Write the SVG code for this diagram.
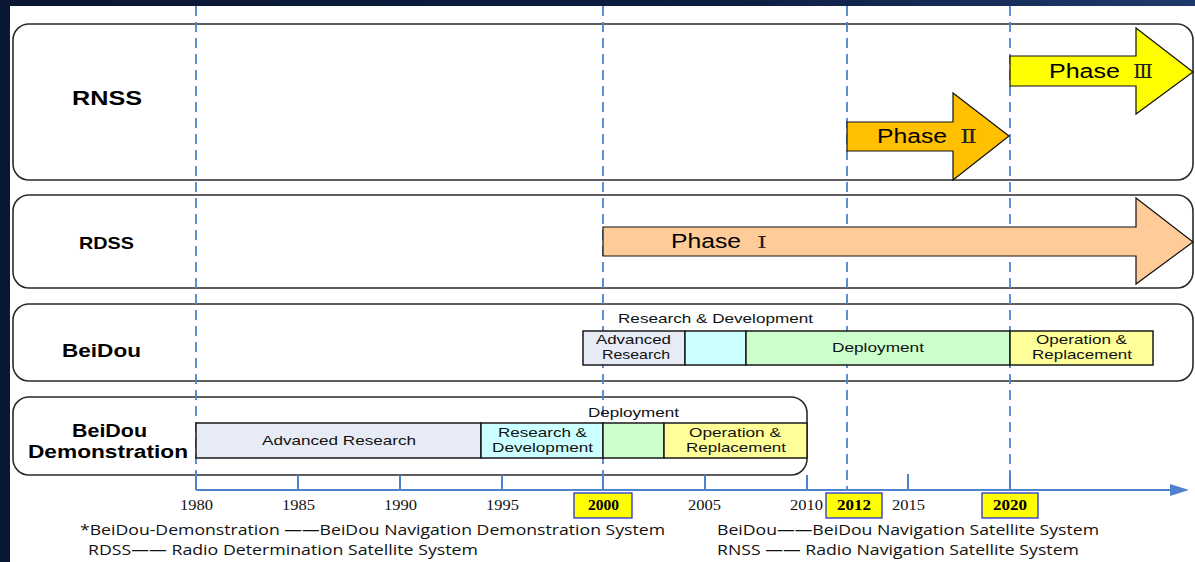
<svg xmlns="http://www.w3.org/2000/svg" width="1195" height="562" viewBox="0 0 1195 562">
<defs>
<linearGradient id="bg" x1="0" y1="0" x2="1" y2="0">
<stop offset="0" stop-color="#0a1733"/>
<stop offset="0.6" stop-color="#0d1d40"/>
<stop offset="1" stop-color="#1e3a6c"/>
</linearGradient>
<style>
.row{fill:#fff;stroke:#2a2a2a;stroke-width:1.6}
.bar{stroke:#1a1a1a;stroke-width:1.5}
.arr{stroke:#111;stroke-width:1.2}
.guide{stroke:#4f82cc;stroke-width:1.8;stroke-dasharray:10 6;fill:none}
.tick{stroke:#4f82cc;stroke-width:2}
.lbl{font-family:"Liberation Sans",Arial,sans-serif;font-weight:bold;fill:#000}
.ph{font-family:"Liberation Sans",Arial,sans-serif;font-size:20px;fill:#000}
.rn{font-family:"DejaVu Serif","Liberation Serif","Noto Sans CJK SC",serif;fill:#222}
.bt{font-family:"Liberation Sans",Arial,sans-serif;font-size:13.5px;fill:#111}
.yr{font-family:"Liberation Serif","Times New Roman",serif;font-size:14px;fill:#111}
.yb{font-family:"Liberation Serif","Times New Roman",serif;font-size:14px;font-weight:bold;fill:#000}
.yb-box{fill:#ffff00;stroke:#2233dd;stroke-width:1.3}
.lg{font-family:"Open Sans","Liberation Sans",sans-serif;font-size:15px;fill:#111}
</style>
</defs>
<rect x="0" y="0" width="1195" height="562" fill="url(#bg)"/>
<rect x="10" y="6" width="1185" height="556" fill="#fff"/>

<g id="row-rnss">
<rect class="row" x="13" y="24" width="1180" height="156" rx="16"/>
<text class="lbl" x="72" y="105" font-size="20" textLength="70" lengthAdjust="spacingAndGlyphs">RNSS</text>
</g>
<g id="row-rdss">
<rect class="row" x="13" y="195" width="1180" height="93" rx="16"/>
<text class="lbl" x="79" y="249" font-size="17" textLength="55" lengthAdjust="spacingAndGlyphs">RDSS</text>
</g>
<g id="row-beidou">
<rect class="row" x="13" y="304" width="1180" height="77" rx="16"/>
<text class="lbl" x="62" y="357" font-size="18" textLength="79" lengthAdjust="spacingAndGlyphs">BeiDou</text>
</g>
<g id="row-demo">
<rect class="row" x="13" y="397" width="794" height="78" rx="16"/>
<text class="lbl" x="72" y="437" font-size="18" textLength="75" lengthAdjust="spacingAndGlyphs">BeiDou</text>
<text class="lbl" x="28" y="458" font-size="18" textLength="160" lengthAdjust="spacingAndGlyphs">Demonstration</text>
</g>

<g id="connectors">
<line class="guide" x1="196" y1="6" x2="196" y2="490"/>
<line class="guide" x1="603" y1="6" x2="603" y2="490"/>
<line class="guide" x1="847" y1="6" x2="847" y2="490"/>
<line class="guide" x1="1010" y1="6" x2="1010" y2="490"/>
</g>

<g id="phase1">
<polygon class="arr" fill="#ffcc99" points="603,227 1136,227 1136,198 1193,242 1136,284 1136,256 603,256"/>
<text class="ph" x="671" y="248" textLength="70" lengthAdjust="spacingAndGlyphs">Phase</text>
<text class="rn" x="757" y="248" font-size="17" textLength="10" lengthAdjust="spacingAndGlyphs">Ⅰ</text>
</g>
<g id="phase2">
<polygon class="arr" fill="#ffc000" points="847,122 953,122 953,93 1009,136 953,180 953,151 847,151"/>
<text class="ph" x="877" y="143" textLength="70" lengthAdjust="spacingAndGlyphs">Phase</text>
<text class="rn" x="960" y="143" font-size="18" textLength="17" lengthAdjust="spacingAndGlyphs">Ⅱ</text>
</g>
<g id="phase3">
<polygon class="arr" fill="#ffff00" points="1010,56 1136,56 1136,28 1193,72 1136,114 1136,86 1010,86"/>
<text class="ph" x="1049" y="78" textLength="71" lengthAdjust="spacingAndGlyphs">Phase</text>
<text class="rn" x="1133" y="78" font-size="18" textLength="20" lengthAdjust="spacingAndGlyphs">Ⅲ</text>
</g>

<g id="beidou-bars">
<text class="bt" x="618" y="323" textLength="195" lengthAdjust="spacingAndGlyphs">Research &amp; Development</text>
<rect class="bar" x="583" y="331" width="102" height="34" fill="#e6ebf6"/>
<rect class="bar" x="685" y="331" width="61" height="34" fill="#ccffff"/>
<rect class="bar" x="746" y="331" width="264" height="34" fill="#ccffcc"/>
<rect class="bar" x="1010" y="331" width="143" height="34" fill="#ffff99"/>
<text class="bt" x="596" y="344" textLength="75" lengthAdjust="spacingAndGlyphs">Advanced</text>
<text class="bt" x="602" y="359" textLength="68" lengthAdjust="spacingAndGlyphs">Research</text>
<text class="bt" x="832" y="352" textLength="92" lengthAdjust="spacingAndGlyphs">Deployment</text>
<text class="bt" x="1036" y="344" textLength="91" lengthAdjust="spacingAndGlyphs">Operation &amp;</text>
<text class="bt" x="1032" y="359" textLength="100" lengthAdjust="spacingAndGlyphs">Replacement</text>
</g>

<g id="demo-bars">
<text class="bt" x="588" y="417" textLength="91" lengthAdjust="spacingAndGlyphs">Deployment</text>
<rect class="bar" x="196" y="423" width="285" height="35" fill="#e6ebf6"/>
<rect class="bar" x="481" y="423" width="122" height="35" fill="#ccffff"/>
<rect class="bar" x="603" y="423" width="61" height="35" fill="#ccffcc"/>
<rect class="bar" x="664" y="423" width="143" height="35" fill="#ffff99"/>
<text class="bt" x="262" y="445" textLength="154" lengthAdjust="spacingAndGlyphs">Advanced Research</text>
<text class="bt" x="498" y="437" textLength="89" lengthAdjust="spacingAndGlyphs">Research &amp;</text>
<text class="bt" x="492" y="452" textLength="101" lengthAdjust="spacingAndGlyphs">Development</text>
<text class="bt" x="689" y="437" textLength="92" lengthAdjust="spacingAndGlyphs">Operation &amp;</text>
<text class="bt" x="686" y="452" textLength="100" lengthAdjust="spacingAndGlyphs">Replacement</text>
</g>

<g id="timeline">
<line class="tick" x1="196" y1="490" x2="1172" y2="490" stroke-width="2.5"/>
<polygon points="1170,484 1189,490 1170,496" fill="#4f82cc"/>
<line class="tick" x1="196" y1="475" x2="196" y2="490"/>
<line class="tick" x1="298" y1="475" x2="298" y2="490"/>
<line class="tick" x1="400" y1="475" x2="400" y2="490"/>
<line class="tick" x1="502" y1="475" x2="502" y2="490"/>
<line class="tick" x1="603" y1="475" x2="603" y2="490"/>
<line class="tick" x1="705" y1="475" x2="705" y2="490"/>
<line class="tick" x1="807" y1="475" x2="807" y2="490"/>
<line class="tick" x1="908" y1="474" x2="908" y2="490"/>
<line class="tick" x1="1010" y1="474" x2="1010" y2="490"/>
<text class="yr" x="180" y="510" textLength="33" lengthAdjust="spacingAndGlyphs">1980</text>
<text class="yr" x="282" y="510" textLength="33" lengthAdjust="spacingAndGlyphs">1985</text>
<text class="yr" x="384" y="510" textLength="33" lengthAdjust="spacingAndGlyphs">1990</text>
<text class="yr" x="486" y="510" textLength="33" lengthAdjust="spacingAndGlyphs">1995</text>
<text class="yr" x="688" y="510" textLength="33" lengthAdjust="spacingAndGlyphs">2005</text>
<text class="yr" x="790" y="510" textLength="33" lengthAdjust="spacingAndGlyphs">2010</text>
<text class="yr" x="892" y="510" textLength="33" lengthAdjust="spacingAndGlyphs">2015</text>
<rect class="yb-box" x="574" y="493" width="58" height="25"/>
<text class="yb" x="588" y="510" textLength="31" lengthAdjust="spacingAndGlyphs">2000</text>
<rect class="yb-box" x="826" y="493" width="56" height="25"/>
<text class="yb" x="837" y="510" textLength="34" lengthAdjust="spacingAndGlyphs">2012</text>
<rect class="yb-box" x="982" y="493" width="56" height="25"/>
<text class="yb" x="993" y="510" textLength="34" lengthAdjust="spacingAndGlyphs">2020</text>
</g>

<g id="legend">
<text class="lg" x="80" y="535" textLength="585" lengthAdjust="spacingAndGlyphs">*BeiDou-Demonstration ——BeiDou Navigation Demonstration System</text>
<text class="lg" x="88" y="555" textLength="390" lengthAdjust="spacingAndGlyphs">RDSS—— Radio Determination Satellite System</text>
<text class="lg" x="717" y="535" textLength="382" lengthAdjust="spacingAndGlyphs">BeiDou——BeiDou Navigation Satellite System</text>
<text class="lg" x="717" y="555" textLength="362" lengthAdjust="spacingAndGlyphs">RNSS —— Radio Navigation Satellite System</text>
</g>
</svg>
